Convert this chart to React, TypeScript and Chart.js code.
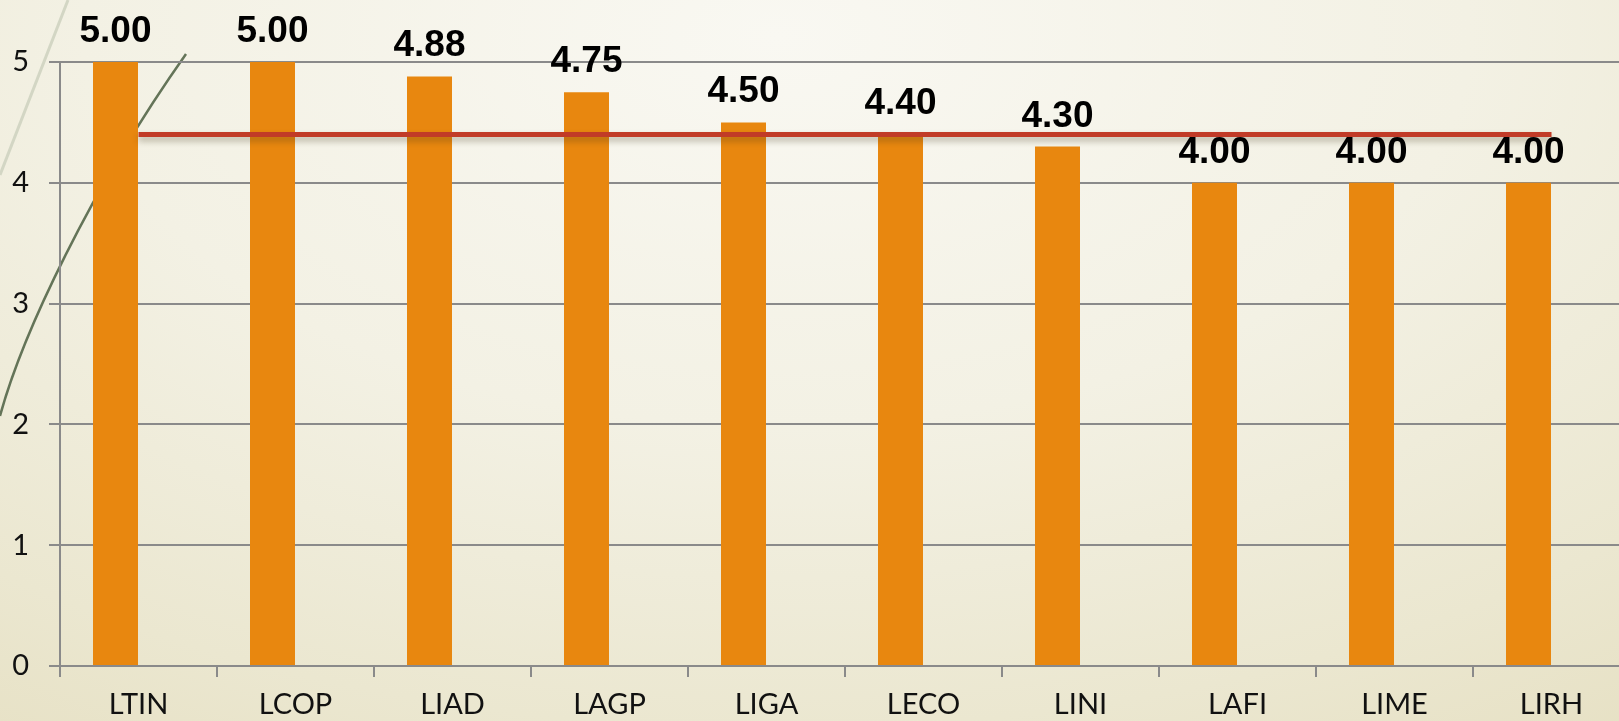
import React, { useEffect, useRef } from "react";
import { Chart, registerables } from "chart.js";

Chart.register(...registerables);

const categories = ["LTIN", "LCOP", "LIAD", "LAGP", "LIGA", "LECO", "LINI", "LAFI", "LIME", "LIRH"];
const scores = [5.0, 5.0, 4.88, 4.75, 4.5, 4.4, 4.3, 4.0, 4.0, 4.0];
const emptySeries = [null, null, null, null, null, null, null, null, null, null];
const averageLine = [4.4, 4.4, 4.4, 4.4, 4.4, 4.4, 4.4, 4.4, 4.4, 4.4];
const yTicks = [0, 1, 2, 3, 4, 5];

const GRID = "#8a8a8a";

const shadowPlugin = {
  id: "lineShadow",
  beforeDatasetDraw(chart: any, args: any) {
    if (args.index === 2) {
      const ctx = chart.ctx;
      ctx.save();
      ctx.shadowColor = "rgba(60,50,20,0.35)";
      ctx.shadowBlur = 6;
      ctx.shadowOffsetY = 4;
    }
  },
  afterDatasetDraw(chart: any, args: any) {
    if (args.index === 2) chart.ctx.restore();
  },
};

const labelPlugin = {
  id: "barLabels",
  afterDraw(chart: any) {
    const ctx = chart.ctx;
    const meta = chart.getDatasetMeta(0);
    ctx.save();
    ctx.fillStyle = "#000";
    ctx.font = "bold 37px 'Liberation Sans', Arial, sans-serif";
    ctx.textAlign = "center";
    ctx.textBaseline = "alphabetic";
    meta.data.forEach((bar: any, i: number) => {
      ctx.fillText(scores[i].toFixed(2), bar.x, bar.y - 20);
    });
    ctx.restore();
  },
};

export default function App() {
  const ref = useRef<HTMLCanvasElement | null>(null);
  useEffect(() => {
    if (!ref.current) return;
    const chart = new Chart(ref.current, {
      type: "bar",
      data: {
        labels: categories,
        datasets: [
          {
            type: "bar",
            data: scores,
            backgroundColor: "#E8870F",
            borderWidth: 0,
            categoryPercentage: 0.586,
            barPercentage: 0.978,
            order: 2,
          } as any,
          {
            type: "bar",
            data: emptySeries,
            backgroundColor: "transparent",
            categoryPercentage: 0.586,
            barPercentage: 0.978,
            order: 3,
          } as any,
          {
            type: "line",
            data: averageLine,
            borderColor: "#C13B27",
            borderWidth: 5,
            pointRadius: 0,
            fill: false,
            order: 0,
          } as any,
        ],
      },
      options: {
        responsive: false,
        animation: false,
        layout: { padding: { top: 62, right: 0, left: 0, bottom: 0 } },
        plugins: { legend: { display: false }, tooltip: { enabled: false } },
        scales: {
          x: {
            offset: true,
            grid: {
              drawOnChartArea: false,
              drawTicks: true,
              tickLength: 11,
              color: GRID,
              lineWidth: 2,
            },
            border: { display: true, color: GRID, width: 2 },
            ticks: {
              color: "#111",
              font: { family: "Lato, 'Noto Sans', sans-serif", size: 29 },
              padding: 10,
            },
            afterFit(scale: any) {
              scale.height = 55;
            },
          },
          y: {
            min: 0,
            max: 5,
            afterBuildTicks(scale: any) {
              scale.ticks = yTicks.map((v) => ({ value: v }));
            },
            grid: { color: GRID, lineWidth: 2, tickLength: 11 },
            border: { display: true, color: GRID, width: 2 },
            ticks: {
              color: "#111",
              font: { family: "Lato, 'Noto Sans', sans-serif", size: 29 },
              padding: 20,
            },
            afterFit(scale: any) {
              scale.width = 60;
            },
          },
        },
      },
      plugins: [shadowPlugin, labelPlugin],
    } as any);
    return () => chart.destroy();
  }, []);

  return (
    <div
      style={{
        position: "fixed",
        left: 0,
        top: 0,
        width: 1619,
        height: 721,
        overflow: "hidden",
        background:
          "radial-gradient(ellipse 95% 120% at 48% 5%, #f9f8f2 0%, #f3f1e4 45%, #ebe7d0 80%, #e6e0c3 100%)",
      }}
    >
      <svg width={1619} height={721} style={{ position: "absolute", left: 0, top: 0 }}>
        <path d="M68,0 L0,175" stroke="#d3d6c4" strokeWidth={3} fill="none" />
        <path d="M0,416 C22,335 90,190 186,54" stroke="#647458" strokeWidth={2.5} fill="none" />
      </svg>
      <canvas
        ref={ref}
        width={1630}
        height={721}
        style={{ position: "absolute", left: 0, top: 0, display: "block" }}
      />
    </div>
  );
}
